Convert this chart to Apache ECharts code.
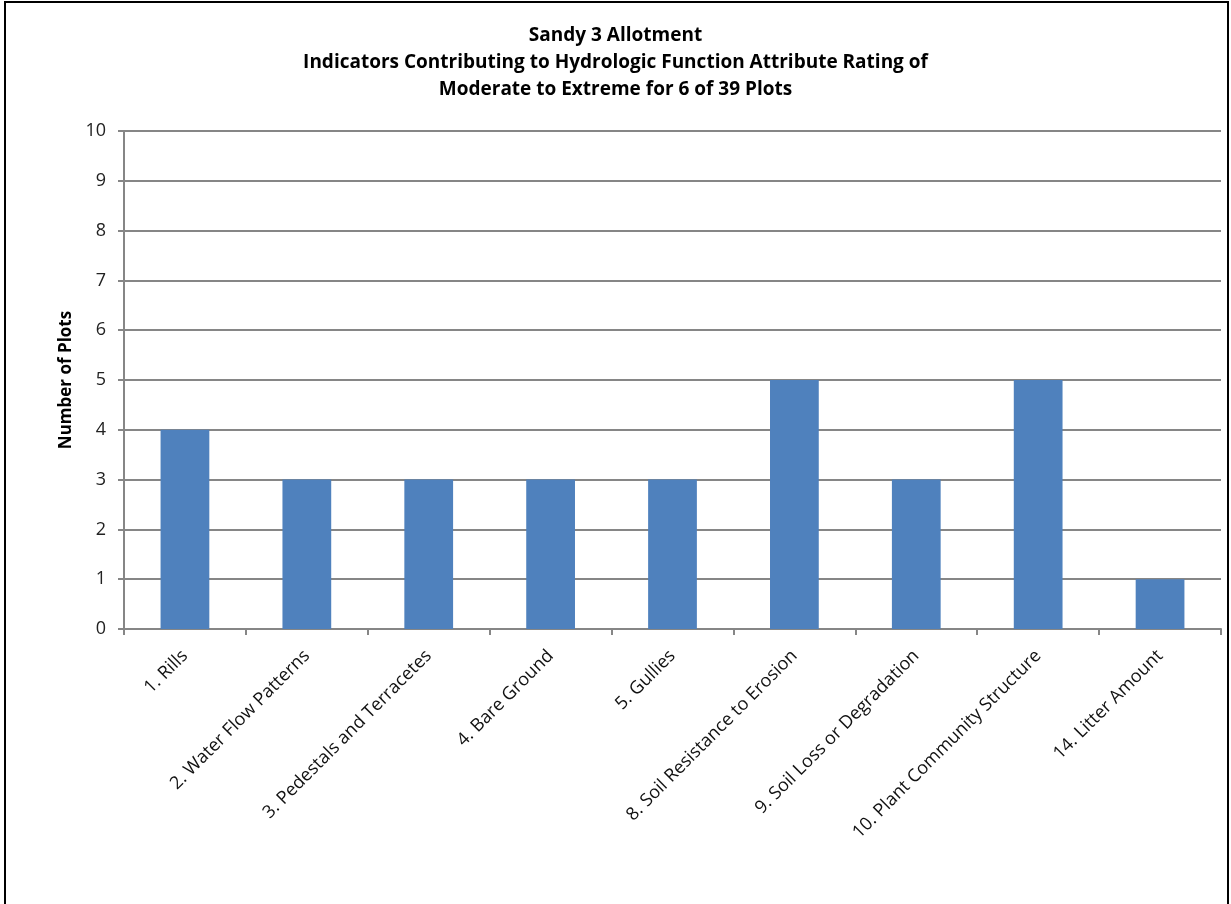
<!DOCTYPE html>
<html><head><meta charset="utf-8">
<script src="https://cdn.jsdelivr.net/npm/echarts@6/dist/echarts.min.js"></script>
<style>html,body{margin:0;padding:0;background:#fff;}#c{width:1231px;height:904px;}</style>
</head><body><div id="c"></div>
<script>
var titleLines = ["Sandy 3 Allotment", "Indicators Contributing to Hydrologic Function Attribute Rating of", "Moderate to Extreme for 6 of 39 Plots"];
var categories = ["1. Rills", "2. Water Flow Patterns", "3. Pedestals and Terracetes", "4. Bare Ground", "5. Gullies", "8. Soil Resistance to Erosion", "9. Soil Loss or Degradation", "10. Plant Community Structure", "14. Litter Amount"];
var values = [4, 3, 3, 3, 3, 5, 3, 5, 1];
var yAxisTitle = "Number of Plots";
var FONT = "Open Sans";
var chart = echarts.init(document.getElementById('c'));
chart.setOption({
  animation: false,
  textStyle: {fontFamily: FONT},
  graphic: [{type: 'rect', shape: {x: 5, y: 2, width: 1223, height: 920}, style: {fill: 'none', stroke: '#000', lineWidth: 2}, silent: true}],
  title: {text: titleLines.join('\n'), left: 'center', top: 17, textStyle: {fontFamily: FONT, fontSize: 19, fontWeight: 'bold', color: '#000', lineHeight: 27}},
  grid: {left: 124, right: 10, top: 131, bottom: 275, containLabel: false},
  xAxis: {type: 'category', data: categories,
    axisLine: {lineStyle: {color: '#868686', width: 2}},
    axisTick: {show: true, length: 6, alignWithLabel: false, lineStyle: {color: '#868686', width: 2}},
    axisLabel: {rotate: 45, interval: 0, fontSize: 18, color: '#111', margin: 24, fontFamily: FONT}},
  yAxis: {type: 'value', min: 0, max: 10, interval: 1, name: yAxisTitle, nameLocation: 'middle', nameGap: 48, nameRotate: 90,
    nameTextStyle: {fontSize: 17, fontWeight: 'bold', color: '#000', fontFamily: FONT},
    axisLine: {show: true, lineStyle: {color: '#868686', width: 2}},
    axisTick: {show: true, length: 6, lineStyle: {color: '#868686', width: 2}},
    splitLine: {lineStyle: {color: '#868686', width: 2}},
    axisLabel: {fontSize: 18, color: '#222', margin: 18, fontFamily: FONT}},
  series: [{type: 'bar', data: values, barCategoryGap: '60%', itemStyle: {color: '#4F81BD'}}]
});
</script></body></html>
